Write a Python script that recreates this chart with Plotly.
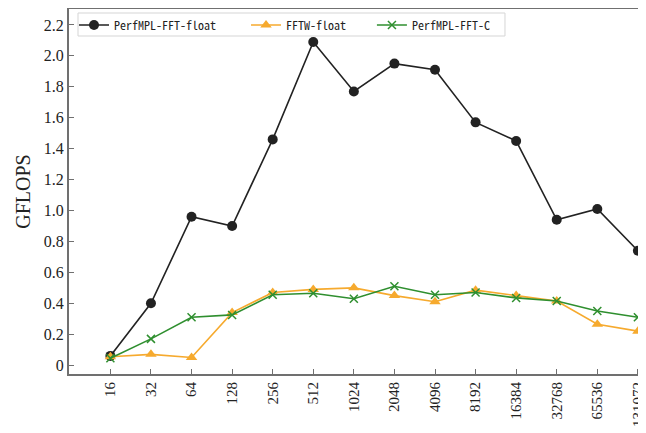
import plotly.graph_objects as go

sizes = ["16", "32", "64", "128", "256", "512", "1024", "2048", "4096",
         "8192", "16384", "32768", "65536", "131072"]
perfmpl_float = [0.06, 0.40, 0.96, 0.90, 1.46, 2.09, 1.77, 1.95, 1.91,
                 1.57, 1.45, 0.94, 1.01, 0.74]
fftw_float = [0.055, 0.07, 0.05, 0.34, 0.47, 0.49, 0.50, 0.45, 0.41,
              0.485, 0.45, 0.415, 0.265, 0.22]
perfmpl_c = [0.045, 0.17, 0.31, 0.325, 0.455, 0.465, 0.43, 0.51, 0.455,
             0.47, 0.435, 0.415, 0.35, 0.31]
y_ticks = [0, 0.2, 0.4, 0.6, 0.8, 1.0, 1.2, 1.4, 1.6, 1.8, 2.0, 2.2]
y_tick_text = ["0", "0.2", "0.4", "0.6", "0.8", "1.0", "1.2", "1.4", "1.6",
               "1.8", "2.0", "2.2"]

SERIF = "Liberation Serif, Times New Roman, serif"
MONO = "Noto Sans Mono CJK SC, DejaVu Sans Mono, monospace"

fig = go.Figure()
fig.add_trace(go.Scatter(x=sizes, y=perfmpl_float, name="PerfMPL-FFT-float",
                         mode="lines+markers", legend="legend",
                         line=dict(color="#222222", width=1.6),
                         marker=dict(symbol="circle", size=10, color="#222222")))
fig.add_trace(go.Scatter(x=sizes, y=fftw_float, name="FFTW-float",
                         mode="lines+markers", legend="legend2",
                         line=dict(color="#F6AA2E", width=1.6),
                         marker=dict(symbol="triangle-up", size=10, color="#F6AA2E")))
fig.add_trace(go.Scatter(x=sizes, y=perfmpl_c, name="PerfMPL-FFT-C",
                         mode="lines+markers", legend="legend3",
                         line=dict(color="#2F8F2F", width=1.6),
                         marker=dict(symbol="x-thin", size=8,
                                     line=dict(color="#2F8F2F", width=1.5))))

leg_common = dict(orientation="h", yanchor="middle", xanchor="left", y=0.956,
                  bgcolor="rgba(0,0,0,0)", borderwidth=0,
                  font=dict(family=MONO, size=12, color="#222222"))

# page has an 8px body margin, so the figure is sized to fit inside the window
fig.update_layout(
    width=638, height=425,
    margin=dict(l=61, r=0, t=1, b=59),
    paper_bgcolor="white", plot_bgcolor="white",
    font=dict(family=SERIF, color="#222222"),
    showlegend=True,
    legend=dict(x=0.0087, **leg_common),
    legend2=dict(x=0.3068, **leg_common),
    legend3=dict(x=0.525, **leg_common),
    shapes=[dict(type="rect", xref="paper", yref="paper",
                 x0=0.0156, x1=0.7556, y0=0.926, y1=0.989,
                 line=dict(color="#D5D5D5", width=1), fillcolor="white",
                 layer="above")],
    xaxis=dict(type="category", range=[-1.02, 13.2], automargin=False,
               showline=True, linecolor="#707070", linewidth=2, mirror=True,
               ticks="inside", ticklen=5, tickcolor="#707070",
               tickangle=-90, tickfont=dict(size=15, family=SERIF),
               showgrid=False, zeroline=False),
    yaxis=dict(range=[-0.057, 2.303], tickvals=y_ticks, ticktext=y_tick_text,
               automargin=False,
               showline=True, linecolor="#707070", linewidth=2, mirror=False,
               ticks="inside", ticklen=5, tickcolor="#707070",
               tickfont=dict(size=16, family=SERIF),
               title=dict(text="GFLOPS", font=dict(size=20, family=SERIF),
                          standoff=8),
               showgrid=False, zeroline=False),
)

fig.write_html("out.html")
